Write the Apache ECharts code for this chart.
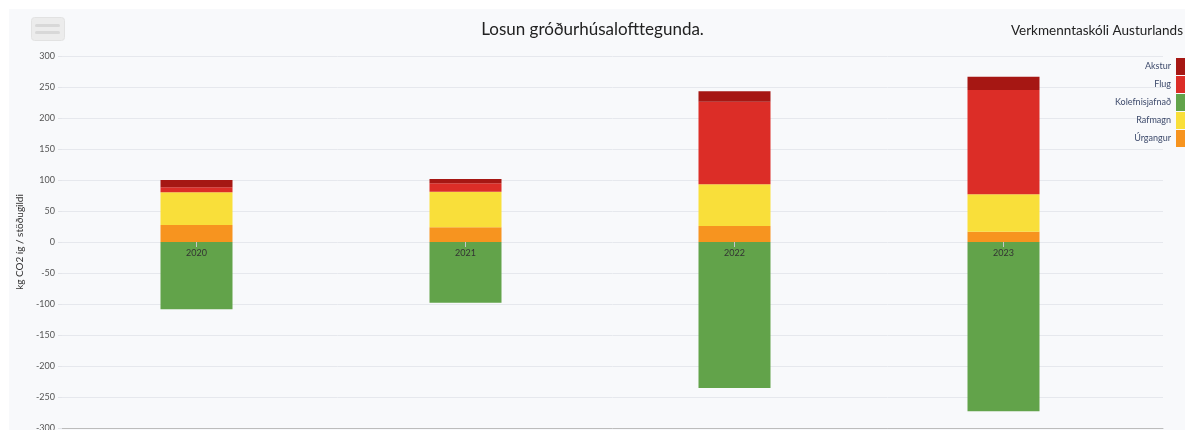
<!DOCTYPE html>
<html>
<head>
<meta charset="utf-8">
<script src="https://cdn.jsdelivr.net/npm/echarts@6/dist/echarts.min.js"></script>
<style>
  html, body { margin: 0; padding: 0; background: #fff; }
  .panel { position: absolute; left: 9px; top: 9px; width: 1176px; height: 421px; background: #f8f9fb; }
  #chart { position: absolute; left: 0; top: 0; width: 1185px; height: 430px; }
</style>
</head>
<body>
<div class="panel"></div>
<div id="chart"></div>
<script>
const years = ['2020', '2021', '2022', '2023']
const akstur = [11.8, 7, 16.7, 21.4]
const flug = [8.1, 13.5, 133.3, 168.2]
const kolefnisjafnad = [-108.5, -98, -235.5, -273]
const rafmagn = [52.7, 57.5, 67.2, 60.3]
const urgangur = [27.4, 23.6, 25.8, 16.7]
const legendNames = ['Akstur', 'Flug', 'Kolefnisjafnað', 'Rafmagn', 'Úrgangur']

const font = 'Lato, "Noto Sans", sans-serif'
const chart = echarts.init(document.getElementById('chart'))

const bar = (name, data, color) => ({
  name,
  type: 'bar',
  stack: 'total',
  barWidth: 72,
  data,
  itemStyle: { color, borderWidth: 0 }
})

chart.setOption({
  animation: false,
  textStyle: { fontFamily: font },
  title: [
    {
      text: 'Losun gróðurhúsalofttegunda.',
      left: 'center',
      top: 16,
      textStyle: { fontSize: 17, fontWeight: 'normal', color: '#222', fontFamily: font }
    },
    {
      text: 'Verkmenntaskóli Austurlands',
      right: -3,
      top: 19,
      textStyle: { fontSize: 13.5, fontWeight: 'normal', color: '#222', fontFamily: font }
    }
  ],
  graphic: [
    {
      type: 'rect',
      left: 31, top: 17,
      shape: { width: 33, height: 23, r: 3 },
      style: { fill: '#ececec', stroke: '#e2e2e2', lineWidth: 1 }
    },
    {
      type: 'rect',
      left: 35, top: 24,
      shape: { width: 25, height: 3, r: 1.5 },
      style: { fill: '#d8d8d8' }
    },
    {
      type: 'rect',
      left: 35, top: 31,
      shape: { width: 25, height: 3, r: 1.5 },
      style: { fill: '#d8d8d8' }
    }
  ],
  legend: {
    orient: 'vertical',
    right: -11,
    top: 58,
    padding: 0,
    align: 'right',
    itemWidth: 20,
    itemHeight: 17,
    itemGap: 1,
    icon: 'rect',
    data: legendNames,
    textStyle: { fontSize: 9, lineHeight: 11, color: '#3d4a6b', fontFamily: font }
  },
  grid: [
    { left: 62, right: 47, top: 56, bottom: 2, outerBoundsMode: 'none' },
    { left: 62, right: 22, top: 56, bottom: 2, outerBoundsMode: 'none' }
  ],
  xAxis: [
    {
      // year labels sit just under the zero line
      type: 'category',
      gridIndex: 0,
      data: years,
      position: 'bottom',
      offset: -186,
      z: 10,
      axisLine: { show: false, onZero: false },
      axisTick: { show: true, alignWithLabel: true, length: 5, lineStyle: { color: '#c8c8c8' } },
      axisLabel: { color: '#333', fontSize: 9, margin: 7 },
      splitLine: { show: false }
    },
    {
      type: 'category',
      gridIndex: 1,
      data: years,
      position: 'bottom',
      axisLine: { show: true, onZero: false, lineStyle: { color: '#bcbcbc' } },
      axisTick: { show: false },
      axisLabel: { show: false },
      splitLine: { show: false }
    }
  ],
  yAxis: [
    {
      type: 'value',
      gridIndex: 0,
      min: -300,
      max: 300,
      interval: 50,
      name: 'kg CO2 íg / stöðugildi',
      nameLocation: 'middle',
      nameGap: 32,
      nameTextStyle: { fontSize: 10, color: '#333' },
      axisLine: { show: false },
      axisTick: { show: true, length: 4, lineStyle: { color: '#e3e5ea' } },
      axisLabel: { color: '#555', fontSize: 9, margin: 7 },
      splitLine: { show: false }
    },
    {
      type: 'value',
      gridIndex: 1,
      min: -300,
      max: 300,
      interval: 50,
      axisLine: { show: false },
      axisTick: { show: false },
      axisLabel: { show: false },
      splitLine: {
        show: true,
        interval: (i) => i % 2 === 0,
        lineStyle: { color: '#e6e8ed', width: 1 }
      }
    }
  ],
  series: [
    bar('Kolefnisjafnað', kolefnisjafnad, '#62a34a'),
    bar('Úrgangur', urgangur, '#f7941f'),
    bar('Rafmagn', rafmagn, '#f9df3a'),
    bar('Flug', flug, '#dc2d27'),
    bar('Akstur', akstur, '#a61713')
  ]
})
</script>
</body>
</html>
